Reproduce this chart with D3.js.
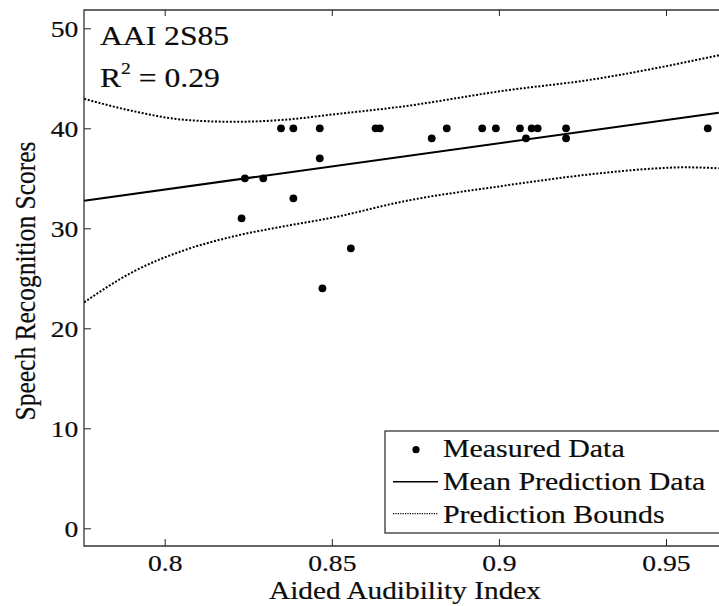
<!DOCTYPE html>
<html>
<head>
<meta charset="utf-8">
<script src="https://cdn.jsdelivr.net/npm/d3@7"></script>
<style>
  body { margin: 0; background: #fff; }
  svg text { font-family: "Liberation Serif", serif !important; fill: #0c0c0c; stroke: #0c0c0c; stroke-width: 0.2px; }
</style>
</head>
<body>
<svg id="chart" width="719" height="606" font-family="Liberation Serif"></svg>
<script>
// values
const measured = [
  [0.8230, 31], [0.8240, 35], [0.8295, 35], [0.8348, 40], [0.8385, 40],
  [0.8385, 33], [0.8464, 40], [0.8464, 37], [0.8472, 24], [0.8557, 28],
  [0.8631, 40], [0.8644, 40], [0.8799, 39], [0.8844, 40], [0.8950, 40],
  [0.8991, 40], [0.9063, 40], [0.9081, 39], [0.9098, 40], [0.9116, 40],
  [0.9201, 40], [0.9201, 39], [0.9625, 40]
]
const meanLine = [[0.7759, 32.76], [0.9658, 41.56]]
const upperBound = [
  [0.7759, 42.95], [0.7908, 41.7], [0.8058, 40.85], [0.8207, 40.65], [0.8357, 40.85],
  [0.8507, 41.4], [0.8716, 42.2], [0.9003, 43.7], [0.9302, 45.0], [0.9452, 45.9], [0.9658, 47.3]
]
const lowerBound = [
  [0.7759, 22.6], [0.7908, 25.7], [0.8058, 27.8], [0.8207, 29.2], [0.8357, 30.2],
  [0.8507, 31.1], [0.8716, 32.7], [0.9003, 34.2], [0.9302, 35.5], [0.9452, 35.95],
  [0.9558, 36.1], [0.9658, 36.0]
]
const xTicks = [0.8, 0.85, 0.9, 0.95]
const yTicks = [0, 10, 20, 30, 40, 50]
const legendItems = ["Measured Data", "Mean Prediction Data", "Prediction Bounds"]

const box = { left: 84, top: 10, right: 722, bottom: 546 }
const stretch = "scale(1.15,1)"

let svg = d3.select("#chart")

let x = d3.scaleLinear().domain([0.8, 0.95]).range([164.7, 666])
let y = d3.scaleLinear().domain([0, 50]).range([528.3, 28.3])

svg.append("clipPath").attr("id", "plotclip")
  .append("rect")
  .attr("x", box.left).attr("y", box.top)
  .attr("width", box.right - box.left).attr("height", box.bottom - box.top)

// axes
let yAxis = svg.append("g")
  .attr("transform", `translate(${box.left},0)`)
  .call(d3.axisLeft(y).tickValues(yTicks).tickSizeInner(-7).tickSizeOuter(0).tickPadding(5))
yAxis.select(".domain").remove()
yAxis.selectAll("text").attr("font-size", 24).attr("transform", stretch).attr("dy", "0.34em")

let xAxis = svg.append("g")
  .attr("transform", `translate(0,${box.bottom})`)
  .call(d3.axisBottom(x).tickValues(xTicks).tickFormat(d3.format("")).tickSizeInner(-7).tickSizeOuter(0))
xAxis.select(".domain").remove()
xAxis.selectAll("text").attr("font-size", 24).attr("transform", stretch).attr("y", 25).attr("dy", 0)

let topAxis = svg.append("g")
  .attr("transform", `translate(0,${box.top})`)
  .call(d3.axisTop(x).tickValues(xTicks).tickFormat("").tickSizeInner(-6).tickSizeOuter(0))
topAxis.select(".domain").remove()

svg.selectAll("g").filter(function () { return this.hasAttribute("font-family") })
  .attr("font-family", "Liberation Serif")
svg.selectAll(".tick line").attr("stroke", "#222").attr("stroke-width", 1)

svg.append("path")
  .attr("d", `M${box.right},${box.top}H${box.left}V${box.bottom}H${box.right}`)
  .attr("fill", "none").attr("stroke", "#333").attr("stroke-width", 1.3)

// curves
let plot = svg.append("g").attr("clip-path", "url(#plotclip)")
let line = d3.line().x(d => x(d[0])).y(d => y(d[1]))

plot.append("path").datum(meanLine)
  .attr("d", line).attr("fill", "none").attr("stroke", "#000").attr("stroke-width", 2)

let boundLine = d3.line().x(d => x(d[0])).y(d => y(d[1])).curve(d3.curveMonotoneX)
;[upperBound, lowerBound].forEach(b => {
  plot.append("path").datum(b)
    .attr("d", boundLine).attr("fill", "none").attr("stroke", "#000")
    .attr("stroke-width", 2).attr("stroke-dasharray", "2,1.7")
})

plot.selectAll("circle").data(measured).join("circle")
  .attr("cx", d => x(d[0])).attr("cy", d => y(d[1]))
  .attr("r", 3.9).attr("fill", "#000")

// annotation
let note = svg.append("g").attr("transform", "translate(100,0)")
note.append("text").attr("y", 45).attr("font-size", 27.5).attr("transform", stretch).text("AAI 2S85")
let r2 = note.append("text").attr("y", 86.7).attr("font-size", 27.5).attr("transform", stretch)
r2.append("tspan").text("R")
r2.append("tspan").attr("font-size", 17).attr("dy", -13).text("2")
r2.append("tspan").attr("dy", 13).text(" = 0.29")

// axis titles
svg.append("text")
  .attr("transform", `translate(405,599) ${stretch}`)
  .attr("text-anchor", "middle").attr("font-size", 25.5)
  .text("Aided Audibility Index")

svg.append("text")
  .attr("transform", `translate(35,281) ${stretch} rotate(-90)`)
  .attr("text-anchor", "middle").attr("font-size", 25.5)
  .text("Speech Recognition Scores")

// legend
let legend = svg.append("g")
legend.append("rect")
  .attr("x", 385).attr("y", 431).attr("width", 345).attr("height", 102)
  .attr("fill", "#fff").attr("stroke", "#222").attr("stroke-width", 1.2)

let rows = legend.selectAll("g.row").data(legendItems).join("g")
  .attr("class", "row")
  .attr("transform", (d, i) => `translate(0,${456.7 + i * 33})`)

rows.append("text").attr("x", 443 / 1.15).attr("font-size", 26)
  .attr("transform", stretch).text(d => d)

rows.filter((d, i) => i == 0).append("circle")
  .attr("cx", 416).attr("cy", -7).attr("r", 3.6).attr("fill", "#000")
rows.filter((d, i) => i == 1).append("line")
  .attr("x1", 393).attr("x2", 438).attr("y1", -8).attr("y2", -8)
  .attr("stroke", "#000").attr("stroke-width", 1.6)
rows.filter((d, i) => i == 2).append("line")
  .attr("x1", 393).attr("x2", 438).attr("y1", -9).attr("y2", -9)
  .attr("stroke", "#000").attr("stroke-width", 1.2).attr("stroke-dasharray", "1.2,1.2")
</script>
</body>
</html>
